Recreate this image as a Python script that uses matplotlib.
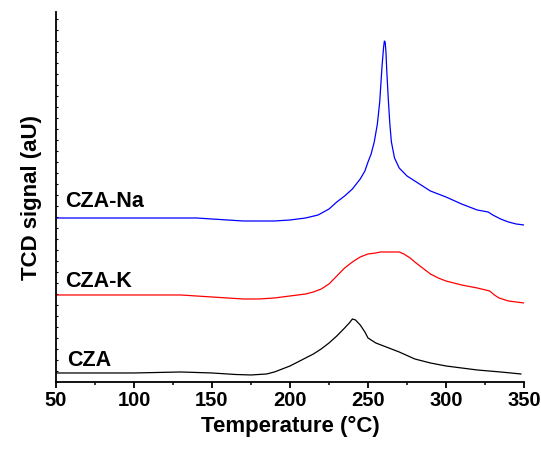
import numpy as np
import matplotlib
matplotlib.use("Agg")
import matplotlib.pyplot as plt
from matplotlib.ticker import MultipleLocator

plt.rcParams['font.family'] = ['Liberation Sans', 'DejaVu Sans']
plt.rcParams['font.weight'] = 'bold'

# TPR traces (signal in arbitrary, offset units)
t_cza = [50, 100, 130, 150, 165, 175, 185, 190, 195, 200, 205, 210, 215,
         220, 225, 230, 235, 238, 240, 242, 245, 248, 250, 255, 260, 265,
         270, 280, 290, 300, 310, 320, 335, 348]
s_cza = [9, 9, 10, 9, 7.5, 7, 8, 10, 13, 16, 20, 24, 28,
         33, 39, 46, 54, 59, 63, 62, 57, 50, 44, 39, 36, 33,
         30, 23, 19, 16, 14, 12, 10, 8]

t_k = [50, 100, 130, 150, 160, 170, 180, 190, 200, 210, 215, 220, 225,
       230, 235, 240, 245, 250, 255, 258, 265, 270, 273, 277, 280, 285,
       290, 295, 300, 310, 320, 328, 331, 334, 340, 345, 350]
s_k = [87, 87, 87, 85, 84, 83, 83, 84, 86, 88, 90, 93, 98,
       106, 114, 120, 125, 128, 129, 130, 130, 130, 128, 124, 120, 114,
       108, 104, 101, 97, 94, 91, 87, 84, 81, 80, 79]

t_na = [50, 100, 140, 150, 160, 170, 180, 190, 200, 210, 218, 225, 230,
        235, 240, 245, 248, 250, 252, 254, 256, 257.5, 259, 260, 260.5, 261,
        261.5, 262, 263, 264, 265, 267, 270, 275, 280, 290, 300, 310, 320,
        327, 330, 335, 340, 345, 350]
s_na = [164, 164, 164, 163, 162, 161, 161, 161, 162, 164, 167, 173, 180,
        186, 193, 203, 211, 220, 228, 240, 258, 280, 316, 335, 341, 340,
        330, 312, 283, 258, 240, 224, 214, 206, 201, 191, 185, 178, 172,
        170, 167, 163, 160, 158, 157]

labels = ["CZA", "CZA-K", "CZA-Na"]
label_pos = [(57, 12), (56, 91), (56, 171)]

fig = plt.figure(figsize=(5.41, 4.52), dpi=100)
ax = fig.add_axes([0.1035, 0.1527, 0.8651, 0.8185])

ax.plot(t_cza, s_cza, color="black", lw=0.9)
ax.plot(t_k, s_k, color="#ff0000", lw=0.9)
ax.plot(t_na, s_na, color="#0000ff", lw=0.9)

for txt, (x, y) in zip(labels, label_pos):
    ax.text(x, y, txt, fontsize=15.5, fontweight="bold", va="bottom", ha="left")

ax.set_xlim(50, 350)
ax.set_ylim(0, 370)
ax.spines["top"].set_visible(False)
ax.spines["right"].set_visible(False)
ax.spines["left"].set_linewidth(1.3)
ax.spines["bottom"].set_linewidth(1.3)

ax.xaxis.set_major_locator(MultipleLocator(50))
ax.xaxis.set_minor_locator(MultipleLocator(25))
ax.tick_params(axis="x", which="major", direction="out", length=4, width=1.3,
               labelsize=14.5, pad=2)
ax.tick_params(axis="x", which="minor", direction="out", length=2.5, width=1.1)
ax.yaxis.set_major_locator(MultipleLocator(22))
ax.yaxis.set_minor_locator(MultipleLocator(11))
ax.tick_params(axis="y", which="both", direction="in", length=1.5, width=0.8,
               labelleft=False)
for lab in ax.get_xticklabels():
    lab.set_fontweight("bold")

ax.set_xlabel("Temperature (°C)", fontsize=16, fontweight="bold", labelpad=4)
ax.set_ylabel("TCD signal (aU)", fontsize=16, fontweight="bold", labelpad=10)

fig.savefig("out.png", dpi=100)
